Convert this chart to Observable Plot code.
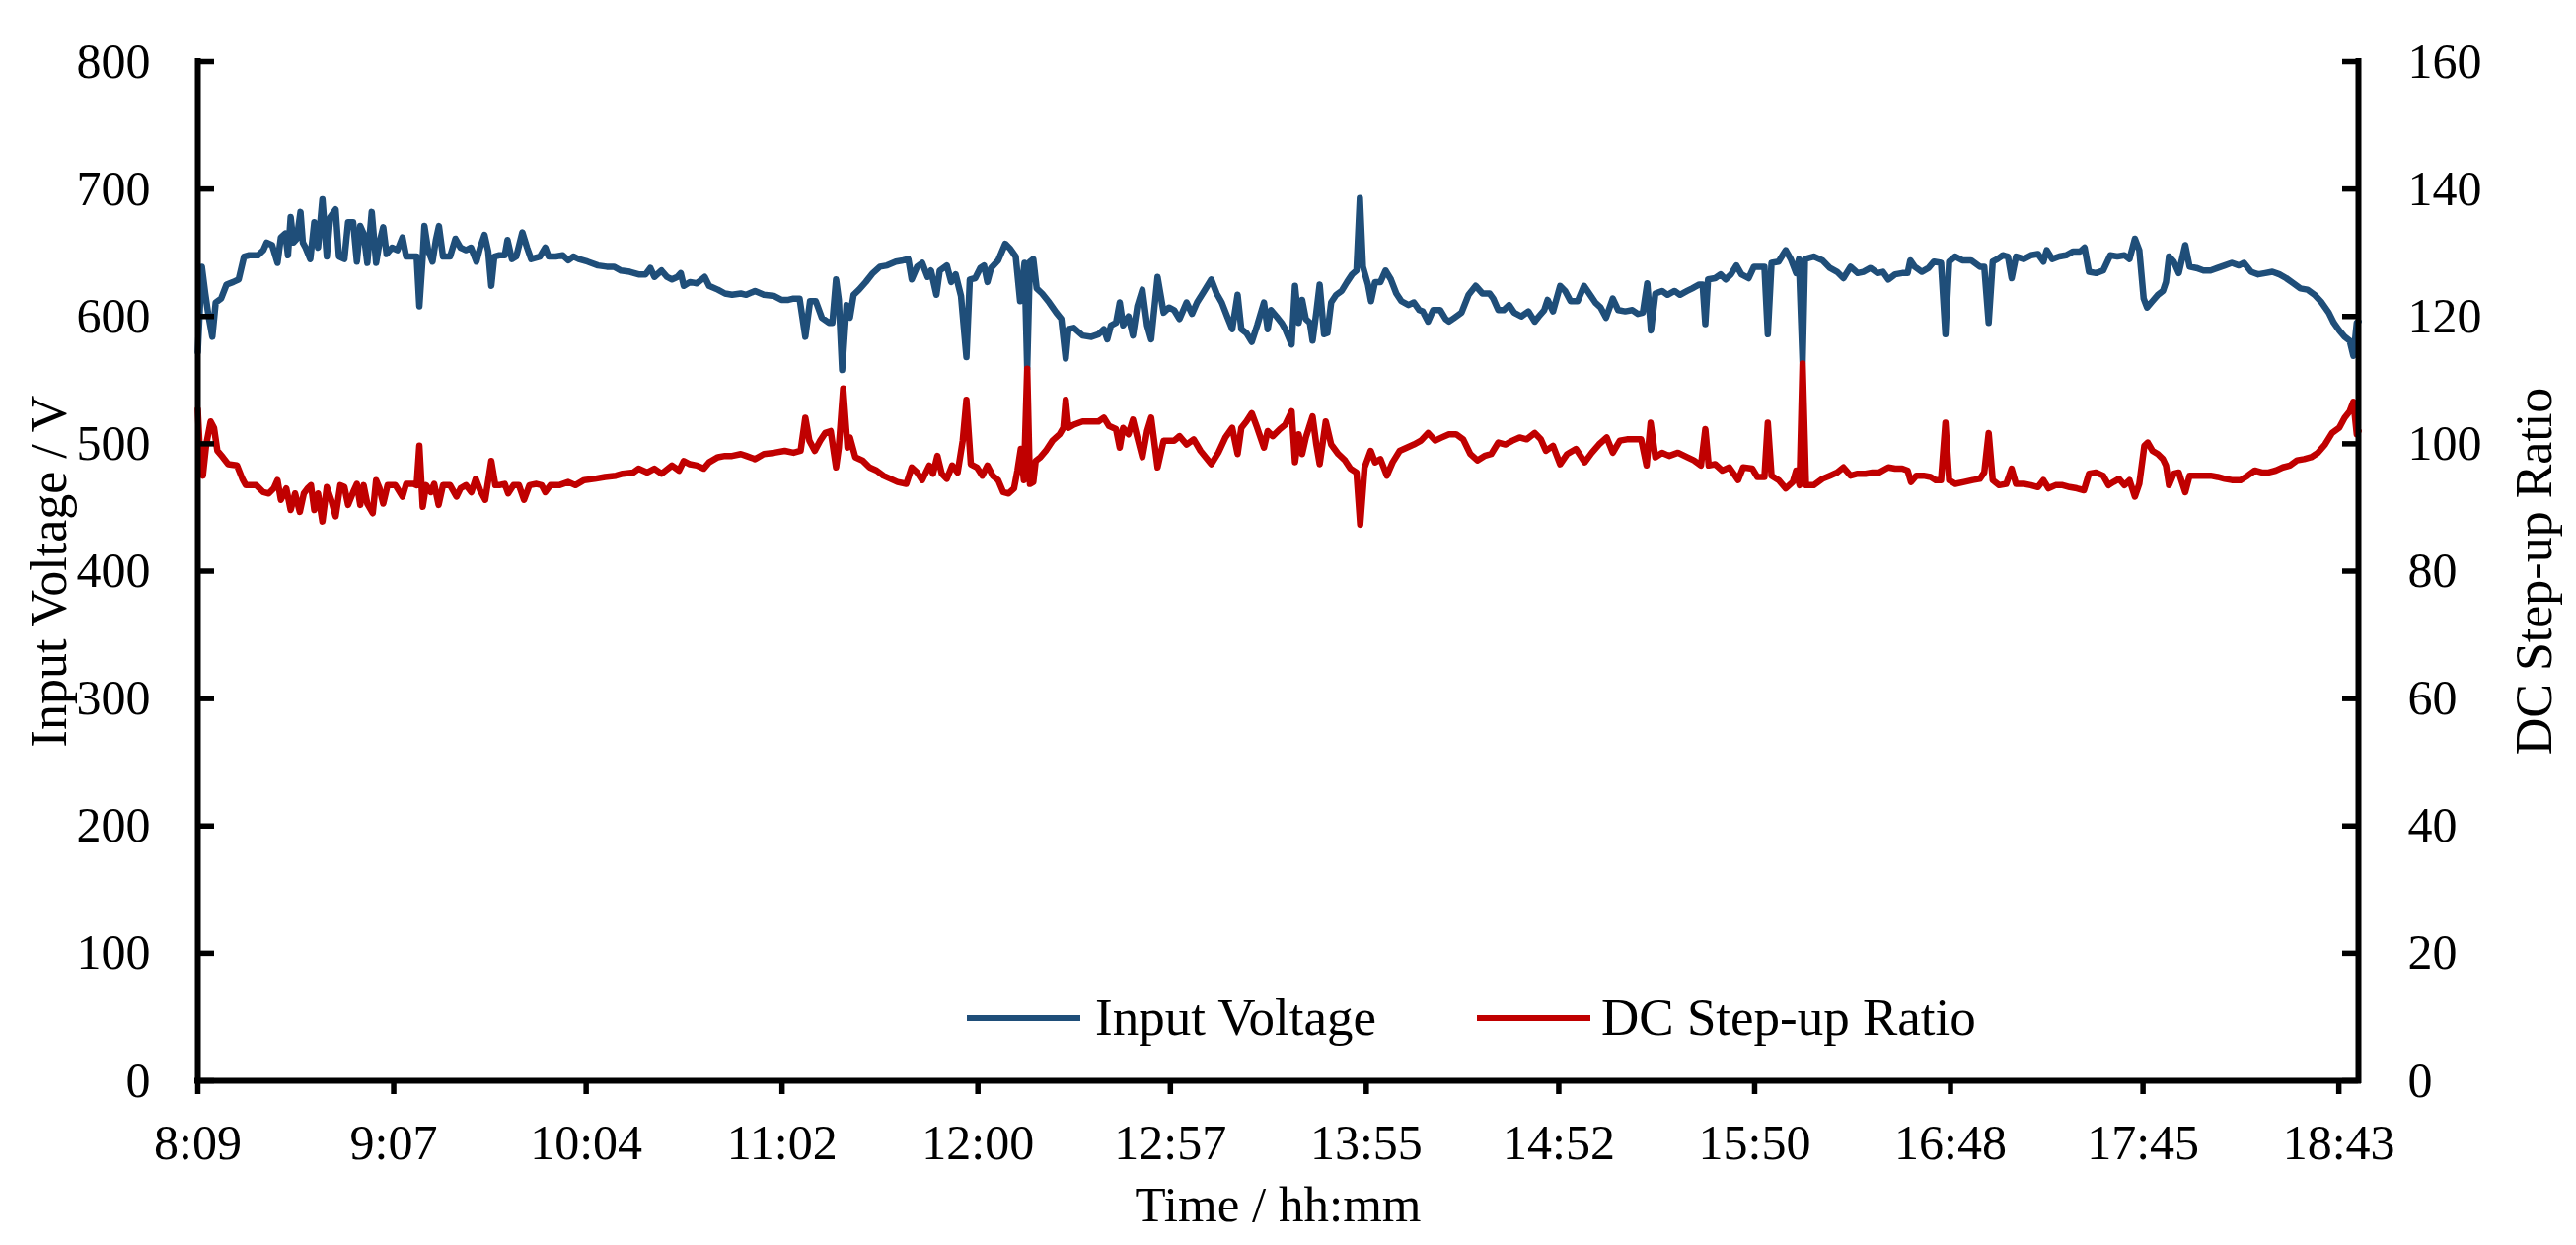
<!DOCTYPE html>
<html>
<head>
<meta charset="utf-8">
<script src="https://cdn.jsdelivr.net/npm/d3@7"></script>
<script src="https://cdn.jsdelivr.net/npm/@observablehq/plot@0.6"></script>
<style>
  html, body { margin: 0; padding: 0; background: #fff; }
  #chart { position: relative; width: 2611px; height: 1262px; font-family: "Liberation Serif", "Times New Roman", serif; color: #000; }
  #chart svg { position: absolute; left: 0; top: 0; }
  .swatch { position: absolute; height: 6px; }
  .legend-label { position: absolute; font-size: 53px; line-height: 53px; white-space: nowrap; }
</style>
</head>
<body>
<div id="chart"></div>
<script>
// Logged samples; times are minutes after midnight.
const voltageTime = [
  489.0, 490.2, 491.2, 492.2, 493.3, 494.3, 495.9, 497.5, 499.5, 501.1, 502.7, 504.2, 506.8, 508.4, 509.4, 511.0, 512.6, 513.6, 514.9, 515.7,
  516.5, 517.3, 518.3, 519.4, 520.1, 520.9, 522.3, 523.5, 524.6, 525.9, 527.2, 528.2, 529.8, 530.8, 532.4, 533.5, 535.0, 536.1, 537.1, 538.1,
  539.2, 540.5, 541.8, 542.8, 543.9, 544.9, 546.5, 548.1, 549.6, 550.7, 552.8, 553.8, 554.6, 555.6, 556.1, 557.2, 558.5, 559.5, 560.4, 561.6,
  563.7, 565.3, 566.8, 568.4, 569.9, 571.5, 572.6, 573.9, 575.0, 575.9, 576.8, 578.3, 579.9, 580.7, 582.0, 583.3, 585.1, 586.5, 587.7, 590.3,
  591.9, 592.9, 595.0, 597.1, 598.7, 600.2, 601.8, 604.4, 607.5, 610.1, 612.2, 614.3, 616.9, 619.5, 621.6, 623.0, 624.2, 626.3, 627.9, 629.4,
  631.0, 632.0, 632.9, 634.7, 636.8, 639.1, 640.4, 643.0, 645.1, 647.2, 649.8,
  651.4, 654.0, 656.6, 659.7, 661.8, 663.9, 665.4, 667.2, 668.9, 670.3, 672.0, 673.8, 675.9, 676.9, 678.0, 678.8, 679.8, 681.1, 682.1, 683.2,
  684.8, 686.8, 688.9, 691.0, 693.1, 695.7, 697.8, 699.4, 700.4, 702.0, 703.5, 705.1, 706.1, 707.7, 708.7, 710.8, 712.1, 713.4, 715.0, 716.6,
  717.6, 719.2, 720.7, 721.8, 722.8, 723.9, 726.0, 728.1, 729.6, 731.2, 732.5, 733.8, 734.6, 735.4, 736.4, 737.4, 739.0, 741.1, 743.2, 744.7,
  746.0, 746.8, 748.4, 751.0, 753.6, 755.7, 757.3, 758.3, 759.4, 760.9, 762.0, 763.0, 764.6, 765.9, 767.2, 768.7, 770.1, 771.3, 773.2, 775.0,
  776.6, 778.1, 779.7, 781.8, 783.4, 784.9, 787.0, 789.1, 790.7, 792.2, 793.8, 795.3, 796.9, 798.0, 799.5, 801.1, 802.7, 804.7, 805.8, 806.8,
  808.4, 809.9,
  811.0, 812.9, 813.9, 815.0, 816.0, 817.1, 818.3, 819.1, 820.2, 821.2, 822.5, 823.5, 824.6, 826.1, 827.7, 829.3, 830.8, 832.1, 833.1, 834.0,
  835.5, 836.4, 837.6, 839.2, 840.7, 842.3, 843.9, 845.4, 847.5, 849.1, 850.7, 851.7, 853.3, 854.8, 856.9, 858.5, 859.5, 861.1, 863.2, 865.3,
  867.4, 869.4, 871.5, 872.6, 874.1, 875.7, 877.3, 878.8, 880.9, 883.0, 884.9, 886.1, 887.7, 888.7, 890.3, 892.4, 893.9, 895.5, 897.6, 899.5,
  901.3, 902.8, 904.4, 906.0, 908.0, 909.6, 911.7, 913.8, 915.4, 916.9, 918.2, 919.3, 920.6, 922.6, 924.2, 926.3, 927.9, 930.0, 931.5, 933.6,
  934.6, 935.4, 936.2, 938.3, 939.9, 941.4, 943.0, 944.6, 946.1, 948.2, 949.8, 951.3, 952.9, 953.9, 955.0, 957.1, 959.2, 960.7, 962.3, 963.1,
  964.2, 964.9, 967.5, 970.1,
  972.3, 974.4, 976.3, 978.4, 980.5, 982.2, 984.3, 986.4, 988.0, 989.6, 991.6, 993.7, 995.3, 996.1, 997.4, 999.5, 1001.5, 1003.1, 1005.2, 1006.5,
  1007.6, 1009.4, 1011.5, 1014.1, 1016.7, 1018.0, 1019.3, 1020.5, 1021.9, 1023.5, 1025.0, 1026.1, 1027.4, 1029.7, 1031.8, 1033.9, 1035.5, 1036.5, 1038.1, 1040.2,
  1042.2, 1044.3, 1046.4, 1047.7, 1049.0, 1051.1, 1053.2, 1055.3, 1057.4, 1059.5, 1061.0, 1062.6, 1063.9, 1065.2, 1066.2, 1067.8, 1069.4, 1070.9, 1071.8, 1072.7,
  1074.1, 1075.6, 1077.5, 1078.8, 1080.8, 1082.9, 1085.0, 1087.1, 1089.2, 1091.3, 1093.4, 1094.9, 1097.0, 1099.1, 1101.2, 1103.3, 1105.4, 1107.4, 1109.5, 1111.6,
  1113.7, 1115.8, 1117.9, 1120.0, 1121.5, 1123.1, 1124.7, 1126.2, 1127.3, 1128.3, 1128.8
];
const voltageValue = [
  572, 639, 618, 600, 584, 611, 614, 625, 627, 629, 647, 648, 648, 652, 658, 656, 642, 662, 665, 648,
  678, 658, 661, 682, 658, 654, 645, 674, 654, 692, 647, 678, 684, 647, 645, 674, 674, 643, 671, 665,
  642, 682, 642, 658, 670, 649, 654, 652, 662, 647, 647, 647, 608, 647, 671, 652, 643, 660, 671, 647,
  647, 661, 654, 652, 654, 643, 654, 664, 651, 624, 647, 648, 648, 660, 645, 647, 666, 654, 645, 647,
  654, 647, 647, 648, 644, 647, 645, 643, 640, 639, 639, 636, 635, 633, 633, 638, 631, 636, 631, 629,
  631, 634, 624, 627, 626, 631, 624, 621, 618, 617, 618,
  617, 620, 617, 616, 613, 613, 614, 614, 584, 612, 612, 599, 595, 595, 629, 613, 558, 609, 599, 617,
  621, 627, 634, 639, 640, 643, 644, 645, 629, 639, 642, 631, 636, 617, 636, 640, 627, 633, 616, 568,
  629, 630, 638, 640, 627, 638, 644, 657, 653, 647, 612, 642, 559, 643, 645, 622, 618, 611, 603, 598,
  567, 590, 591, 585, 584, 586, 590, 582, 593, 595, 611, 593, 600, 585, 608, 621, 593, 582, 631, 603,
  607, 605, 598, 611, 602, 611, 620, 629, 618, 611, 600, 590, 617, 590, 587, 580, 593, 611, 590, 605,
  600, 595,
  590, 578, 624, 595, 613, 598, 595, 581, 603, 625, 586, 587, 611, 617, 620, 627, 633, 636, 693, 639,
  625, 612, 627, 627, 636, 629, 618, 612, 609, 611, 605, 604, 596, 605, 605, 598, 596, 599, 603, 617,
  624, 618, 618, 614, 605, 605, 609, 603, 600, 604, 596, 600, 605, 613, 604, 624, 620, 612, 612, 624,
  617, 611, 607, 599, 614, 605, 604, 605, 602, 603, 626, 589, 618, 620, 617, 620, 617, 620, 622, 625,
  625, 594, 629, 630, 633, 629, 633, 640, 633, 630, 639, 639, 639, 586, 642, 643, 652, 645, 634, 645,
  564, 645, 647, 644,
  638, 635, 630, 639, 634, 635, 638, 634, 635, 629, 633, 634, 634, 644, 639, 635, 638, 643, 642, 586,
  643, 647, 644, 644, 639, 639, 595, 643, 645, 648, 647, 630, 647, 645, 648, 649, 643, 652, 645, 647,
  648, 651, 651, 654, 635, 634, 636, 648, 647, 648, 645, 661, 652, 614, 607, 612, 617, 620, 627, 647,
  643, 634, 656, 639, 638, 636, 636, 638, 640, 642, 640, 642, 635, 633, 634, 635, 633, 630, 626, 622,
  621, 617, 611, 603, 595, 589, 584, 581, 569, 595, 596
];

const ratioTime = [
  489.0, 489.8, 490.5, 491.5, 492.8, 493.8, 494.8, 496.4, 498.0, 500.6, 502.2, 503.2, 506.3, 508.4, 510.0, 511.5, 512.6, 513.6, 515.2, 516.5,
  517.8, 519.2, 520.4, 521.5, 522.5, 523.5, 524.6, 525.9, 527.2, 528.5, 529.8, 531.2, 532.4, 533.5, 535.0, 536.1, 537.1, 538.1, 539.2, 540.8,
  541.8, 542.8, 543.9, 545.2, 547.5, 549.6, 550.7, 552.8, 553.8, 554.6, 555.6, 556.6, 558.0, 559.0, 560.3, 561.6, 563.7, 565.6, 566.8, 568.4,
  570.0, 571.3, 572.6, 574.1, 575.9, 577.1, 578.3, 579.9, 580.9, 582.5, 584.1, 585.6, 587.2, 589.3, 590.8, 591.9, 593.4, 596.0, 598.7, 600.8,
  603.4, 606.5, 609.6, 612.8, 614.8, 618.0, 619.5, 622.1, 624.2, 626.3, 629.4, 631.5, 632.9, 634.7, 636.8, 638.8, 640.4, 643.0, 645.1, 647.2,
  649.8,
  651.4, 654.0, 656.6, 659.7, 662.8, 665.4, 667.5, 668.9, 670.1, 671.7, 673.3, 674.8, 676.4, 678.0, 678.8, 680.1, 681.4, 682.1, 683.7, 685.8,
  687.9, 690.0, 692.0, 694.1, 696.2, 698.8, 700.4, 702.0, 703.5, 705.6, 706.7, 708.0, 709.3, 710.8, 712.4, 714.0, 715.5, 716.6, 717.9, 719.7,
  721.3, 722.8, 724.4, 726.0, 727.5, 729.1, 730.7, 731.7, 732.7, 733.6, 734.6, 735.4, 736.4, 737.1, 738.5, 740.1, 742.1, 744.2, 745.3, 746.0,
  746.8, 748.4, 751.0, 753.6, 755.7, 757.3, 758.8, 760.9, 762.0, 763.0, 764.6, 765.9, 767.2, 768.7, 770.1, 771.3, 773.2, 775.0, 776.6, 778.1,
  779.7, 781.8, 783.9, 785.9, 789.1, 791.2, 793.3, 795.3, 796.9, 798.0, 799.5, 801.1, 802.7, 804.7, 805.8, 807.3, 809.4,
  811.0, 812.9, 813.9, 815.0, 816.0, 817.1, 819.1, 820.2, 821.2, 823.0, 824.6, 826.7, 828.7, 830.3, 832.1, 833.2, 834.5, 836.3, 837.6, 839.2,
  841.1, 842.8, 844.9, 847.0, 849.1, 851.2, 853.3, 855.4, 857.4, 859.5, 861.6, 863.7, 865.8, 867.9, 870.0, 872.0, 874.1, 876.2, 878.3, 880.4,
  882.5, 884.9, 886.7, 888.2, 890.3, 892.4, 894.5, 897.1, 899.7, 901.8, 903.9, 906.2, 908.0, 910.1, 912.2, 914.3, 916.4, 918.0, 919.2, 920.6,
  922.6, 924.7, 927.3, 930.0, 932.0, 934.1, 935.4, 936.4, 938.3, 940.4, 942.5, 945.1, 946.6, 949.3, 950.8, 952.9, 953.9, 955.0, 957.1, 959.2,
  961.3, 962.3, 963.3, 964.2, 965.2, 967.5, 970.1,
  972.3, 974.4, 976.3, 978.4, 980.5, 982.8, 984.9, 986.9, 989.6, 991.6, 993.7, 995.3, 996.3, 997.9, 1000.0, 1002.1, 1003.6, 1005.2, 1006.5, 1007.6,
  1009.4, 1012.0, 1014.6, 1016.7, 1018.0, 1019.3, 1020.5, 1022.4, 1024.5, 1026.1, 1027.4, 1029.7, 1031.8, 1033.9, 1035.5, 1037.0, 1039.1, 1041.2, 1043.3, 1045.4,
  1047.5, 1049.0, 1051.1, 1053.2, 1054.8, 1056.3, 1057.9, 1059.5, 1061.0, 1062.6, 1063.9, 1065.4, 1066.4, 1067.8, 1069.4, 1070.9, 1071.8, 1072.7, 1074.1, 1075.6,
  1077.5, 1078.8, 1080.8, 1082.9, 1085.0, 1087.1, 1089.2, 1091.3, 1093.9, 1096.0, 1098.1, 1100.2, 1102.2, 1104.3, 1106.4, 1108.5, 1110.6, 1112.7, 1114.8, 1116.8,
  1118.9, 1121.0, 1123.1, 1124.7, 1126.2, 1127.3, 1128.3, 1128.8
];
const ratioValue = [
  105.4, 96.8, 95.0, 99.9, 103.5, 102.5, 98.9, 97.9, 96.8, 96.6, 94.5, 93.5, 93.5, 92.4, 92.2, 93.0, 94.3, 91.2, 93.0, 89.6,
  92.2, 89.3, 92.2, 93.0, 93.5, 89.6, 92.2, 87.8, 93.2, 91.2, 88.6, 93.5, 93.2, 90.4, 92.4, 93.7, 90.4, 93.5, 90.6, 89.1,
  94.3, 93.0, 90.6, 93.5, 93.5, 91.7, 93.7, 93.7, 93.5, 99.7, 90.1, 93.5, 92.4, 93.7, 90.4, 93.5, 93.5, 91.7, 93.0, 93.5,
  92.4, 94.5, 92.7, 91.2, 97.3, 93.5, 93.5, 93.7, 92.2, 93.5, 93.5, 91.2, 93.5, 93.7, 93.5, 92.4, 93.5, 93.5, 94.0, 93.5,
  94.3, 94.5, 94.8, 95.0, 95.3, 95.5, 96.1, 95.5, 96.1, 95.3, 96.6, 95.8, 97.3, 96.8, 96.6, 96.1, 97.1, 97.9, 98.1, 98.1,
  98.4,
  98.1, 97.6, 98.4, 98.6, 98.9, 98.6, 98.9, 104.1, 100.5, 98.9, 100.5, 101.7, 102.0, 96.3, 99.4, 108.7, 99.4, 101.0, 97.9, 97.4,
  96.3, 95.8, 95.0, 94.5, 94.0, 93.7, 96.3, 95.5, 94.3, 96.6, 95.3, 98.1, 95.3, 94.5, 96.6, 95.5, 100.5, 106.9, 96.8, 96.3,
  95.0, 96.6, 95.0, 94.3, 92.4, 92.2, 93.0, 95.8, 99.2, 94.3, 111.8, 93.7, 94.0, 97.3, 97.9, 98.9, 100.5, 101.5, 102.5, 106.9,
  102.5, 103.0, 103.5, 103.5, 103.5, 104.1, 102.8, 102.3, 99.4, 102.5, 101.5, 103.8, 101.0, 97.9, 102.0, 104.1, 96.3, 100.5, 100.5, 100.5,
  101.2, 99.9, 100.7, 98.9, 96.8, 98.6, 101.0, 102.5, 98.4, 102.5, 103.5, 104.8, 102.5, 99.4, 102.0, 101.2, 102.3,
  103.0, 105.1, 97.1, 101.5, 98.4, 101.0, 104.3, 99.9, 96.8, 103.5, 99.9, 98.4, 97.4, 96.1, 95.5, 87.3, 96.3, 98.9, 97.1, 97.6,
  95.0, 97.1, 98.9, 99.4, 99.9, 100.5, 101.7, 100.5, 101.0, 101.5, 101.5, 100.7, 98.4, 97.4, 98.1, 98.4, 100.2, 99.9, 100.5, 101.0,
  100.7, 101.7, 100.7, 98.9, 99.7, 96.8, 98.4, 99.2, 97.1, 98.6, 99.9, 101.0, 98.6, 100.5, 100.7, 100.7, 100.7, 96.6, 103.3, 97.9,
  98.6, 98.1, 98.6, 97.9, 97.4, 96.6, 102.3, 96.6, 96.8, 95.8, 96.3, 94.3, 96.3, 96.1, 94.8, 94.8, 103.3, 95.0, 94.3, 93.0,
  94.0, 95.8, 93.5, 112.6, 93.5, 93.5, 94.5,
  95.0, 95.5, 96.3, 95.0, 95.3, 95.3, 95.5, 95.5, 96.3, 96.1, 96.1, 95.8, 94.0, 95.0, 95.0, 94.8, 94.3, 94.3, 103.3, 94.3,
  93.7, 94.0, 94.3, 94.5, 95.5, 101.7, 94.3, 93.5, 93.7, 96.1, 93.7, 93.7, 93.5, 93.2, 94.3, 93.0, 93.5, 93.5, 93.2, 93.0,
  92.7, 95.3, 95.5, 95.0, 93.5, 94.0, 94.5, 93.5, 94.3, 91.7, 93.7, 99.7, 100.2, 98.9, 98.4, 97.6, 96.6, 93.5, 95.3, 95.5,
  92.4, 95.0, 95.0, 95.0, 95.0, 94.8, 94.5, 94.3, 94.3, 95.0, 95.8, 95.5, 95.5, 95.8, 96.3, 96.6, 97.4, 97.6, 97.9, 98.6,
  99.9, 101.7, 102.5, 104.1, 105.1, 106.6, 101.5, 102.0
];

// Axis ticks and labels
const timeTickLabels = ["8:09", "9:07", "10:04", "11:02", "12:00", "12:57", "13:55", "14:52", "15:50", "16:48", "17:45", "18:43"];
const voltageTicks = [0, 100, 200, 300, 400, 500, 600, 700, 800];
const ratioTicks = [0, 20, 40, 60, 80, 100, 120, 140, 160];
const timeStart = 489;     // 8:09
const timeEnd = 1128.8;    // last logged sample

const seriesNames = ["Input Voltage", "DC Step-up Ratio"];
const seriesColors = ["#1F4E79", "#C00000"];

// The secondary (ratio) axis shares the primary scale: 160 on the right equals 800 V on the left.
const ratioScale = voltageTicks[voltageTicks.length - 1] / ratioTicks[ratioTicks.length - 1];

const toMinutes = s => { const [h, m] = s.split(":").map(Number); return h * 60 + m; };
const timeTicks = timeTickLabels.map(toMinutes);

const voltage = voltageTime.map((t, i) => ({t, v: voltageValue[i]}));
const ratio = ratioTime.map((t, i) => ({t, r: ratioValue[i]}));

const W = 2611, H = 1262;
const mLeft = 200, mRight = 221, mTop = 62, mBottom = 167;
const frameW = W - mLeft - mRight;
const TICK_FONT = 50;
const TITLE_FONT = 52;
const axisStyle = {stroke: "#000", strokeWidth: 6, strokeLinecap: "square"};
const LINE_WIDTH = 6.5;

const chart = Plot.plot({
  width: W,
  height: H,
  marginLeft: mLeft,
  marginRight: mRight,
  marginTop: mTop,
  marginBottom: mBottom,
  style: {fontFamily: "'Liberation Serif', 'Times New Roman', serif", fontSize: TICK_FONT + "px", color: "#000", background: "transparent", overflow: "visible"},
  x: {type: "linear", domain: [timeStart, timeEnd]},
  y: {domain: [voltageTicks[0], voltageTicks[voltageTicks.length - 1]]},
  marks: [
    Plot.line(voltage, {x: "t", y: "v", stroke: seriesColors[0], strokeWidth: LINE_WIDTH, strokeLinejoin: "round"}),
    Plot.line(ratio, {x: "t", y: d => d.r * ratioScale, stroke: seriesColors[1], strokeWidth: LINE_WIDTH, strokeLinejoin: "round"}),

    // axis lines (left, right, bottom)
    Plot.ruleX([timeStart], axisStyle),
    Plot.ruleX([timeEnd], axisStyle),
    Plot.ruleY([voltageTicks[0]], axisStyle),

    // inward tick marks on both value axes
    Plot.ruleY(voltageTicks, {stroke: "#000", strokeWidth: 5.5, insetRight: frameW - 17}),
    Plot.ruleY(ratioTicks, {y: d => d * ratioScale, stroke: "#000", strokeWidth: 5.5, insetLeft: frameW - 16}),

    // time axis: outward ticks and labels
    Plot.axisX(timeTicks, {
      tickSize: 14, strokeWidth: 5.5, tickPadding: 30, fontSize: TICK_FONT, label: null,
      tickFormat: d => timeTickLabels[timeTicks.indexOf(d)]
    }),

    // value axis labels
    Plot.axisY(voltageTicks, {anchor: "left", tickSize: 0, tickPadding: 48, fontSize: TICK_FONT, label: null}),
    Plot.text(ratioTicks, {y: d => d * ratioScale, text: d => String(d), frameAnchor: "right", textAnchor: "start", dx: 50, fontSize: TICK_FONT}),

    // axis titles
    Plot.text(["Input Voltage / V"], {text: d => d, frameAnchor: "left", textAnchor: "middle", lineAnchor: "middle", rotate: -90, dx: -150, fontSize: TITLE_FONT}),
    Plot.text(["DC Step-up Ratio"], {text: d => d, frameAnchor: "right", textAnchor: "middle", lineAnchor: "middle", rotate: -90, dx: 179, fontSize: TITLE_FONT}),
    Plot.text(["Time / hh:mm"], {text: d => d, frameAnchor: "bottom", textAnchor: "middle", lineAnchor: "middle", dy: 126, fontSize: 51})
  ]
});

const root = d3.select("#chart");
root.node().appendChild(chart);

// Legend inside the plot area, near the time axis
const legendItems = [
  {name: seriesNames[0], color: seriesColors[0], swatchLeft: 980, labelLeft: 1110},
  {name: seriesNames[1], color: seriesColors[1], swatchLeft: 1497, labelLeft: 1623}
];
for (const item of legendItems) {
  root.append("div").attr("class", "swatch")
    .style("left", item.swatchLeft + "px").style("top", "1029px").style("width", "115px")
    .style("background", item.color);
  root.append("div").attr("class", "legend-label")
    .style("left", item.labelLeft + "px").style("top", "1005px")
    .text(item.name);
}
</script>
</body>
</html>
